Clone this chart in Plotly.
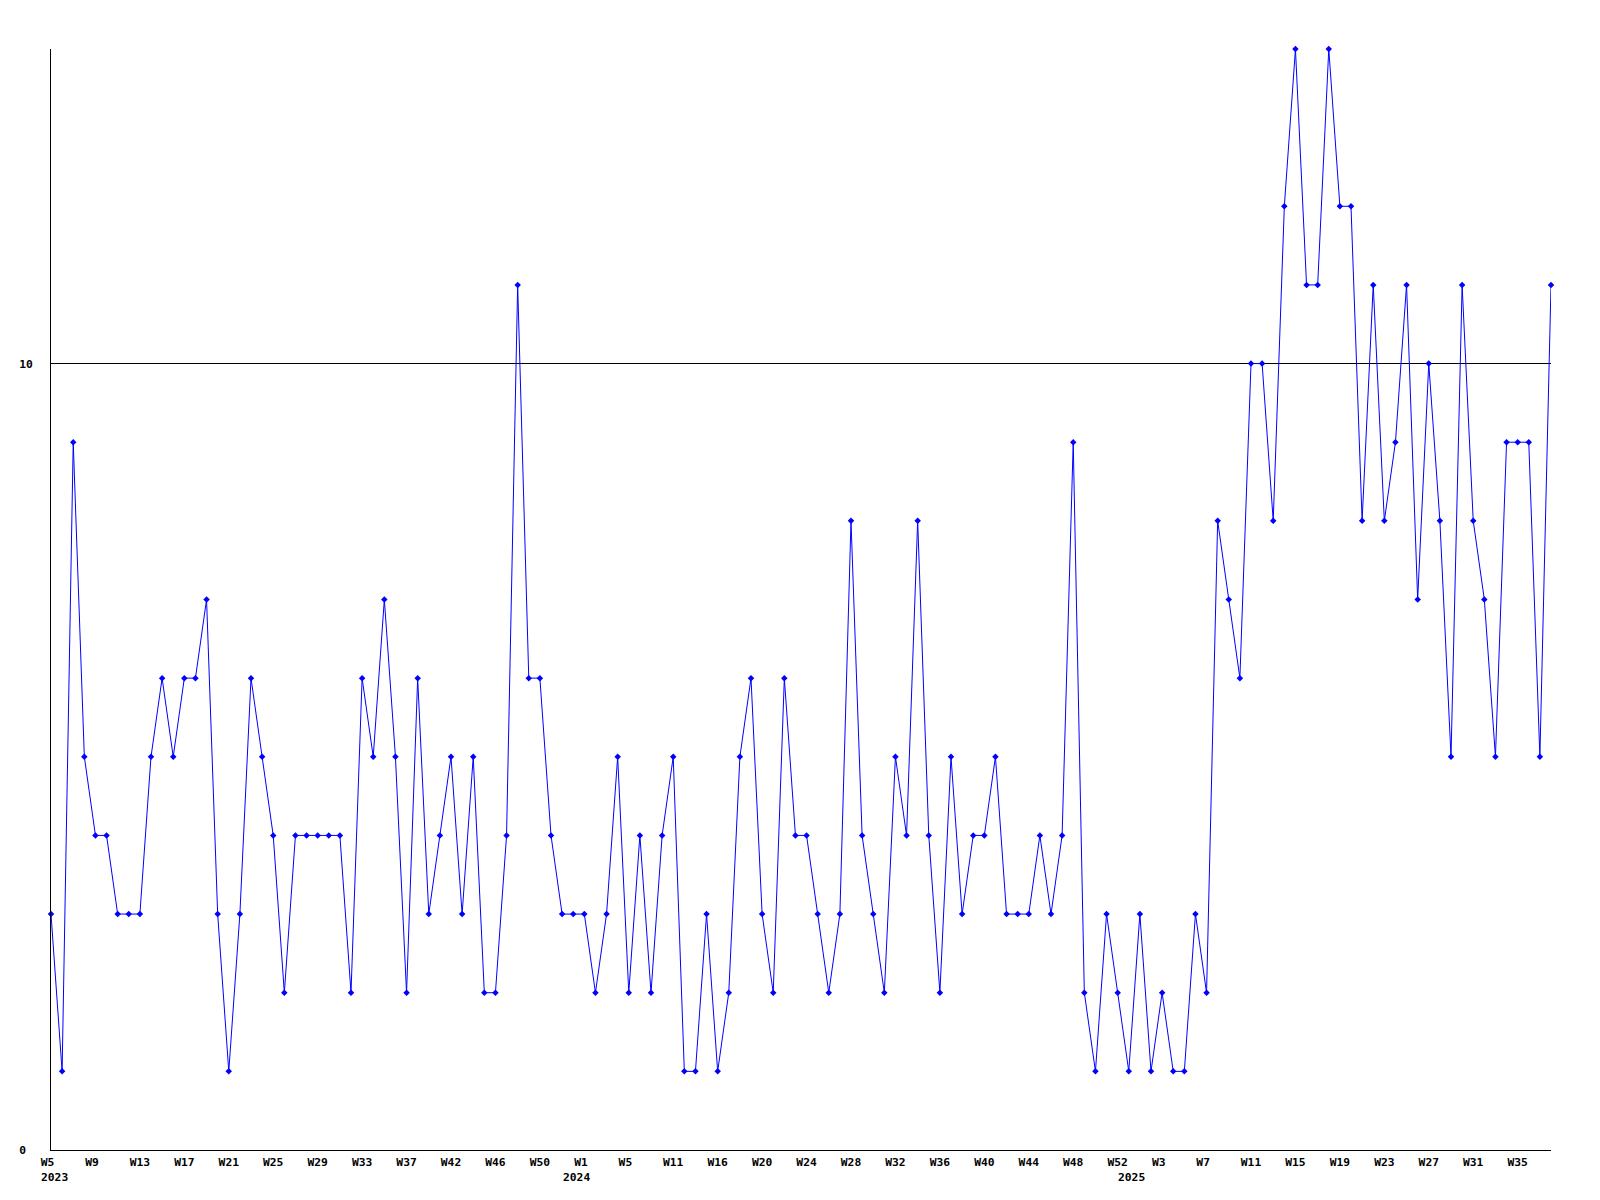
import plotly.graph_objects as go

# weekly values, W5 2023 .. ~W38 2025 (136 consecutive entries)
values = [
    3, 1, 9, 5, 4, 4, 3, 3, 3, 5,
    6, 5, 6, 6, 7, 3, 1, 3, 6, 5,
    4, 2, 4, 4, 4, 4, 4, 2, 6, 5,
    7, 5, 2, 6, 3, 4, 5, 3, 5, 2,
    2, 4, 11, 6, 6, 4, 3, 3, 3, 2,
    3, 5, 2, 4, 2, 4, 5, 1, 1, 3,
    1, 2, 5, 6, 3, 2, 6, 4, 4, 3,
    2, 3, 8, 4, 3, 2, 5, 4, 8, 4,
    2, 5, 3, 4, 4, 5, 3, 3, 3, 4,
    3, 4, 9, 2, 1, 3, 2, 1, 3, 1,
    2, 1, 1, 3, 2, 8, 7, 6, 10, 10,
    8, 12, 14, 11, 11, 14, 12, 12, 8, 11,
    8, 9, 11, 7, 10, 8, 5, 11, 8, 7,
    5, 9, 9, 9, 5, 11,
]

tick_positions = [0, 4, 8, 12, 16, 20, 24, 28, 32, 36, 40, 44, 48, 52, 56, 60, 64,
                  68, 72, 76, 80, 84, 88, 92, 96, 100, 104, 108, 112, 116, 120, 124,
                  128, 132]
tick_labels = ["W5", "W9", "W13", "W17", "W21", "W25", "W29", "W33", "W37", "W42",
               "W46", "W50", "W1", "W5", "W11", "W16", "W20", "W24", "W28", "W32",
               "W36", "W40", "W44", "W48", "W52", "W3", "W7", "W11", "W15", "W19",
               "W23", "W27", "W31", "W35"]

year_positions = [0, 47, 97]
year_labels = ["2023", "2024", "2025"]

y_ticks = [0, 10]
y_tick_labels = ["0\u00a0", "10"]

x = list(range(len(values)))

FONT = dict(family="DejaVu Sans Mono", size=11.3, color="black", weight="bold")

fig = go.Figure()
fig.add_trace(go.Scatter(
    x=x, y=values, mode="lines+markers",
    line=dict(color="#0000FF", width=1),
    marker=dict(symbol="diamond", size=5, color="#0000FF"),
    cliponaxis=False, showlegend=False, hoverinfo="x+y",
))

# pad 2-char labels so text starts left of the point like the original
padded = [t if len(t) >= 3 else t + "\u00a0" for t in tick_labels]

for pos, lab in zip(year_positions, year_labels):
    fig.add_annotation(x=pos, y=0, xref="x", yref="paper", text=lab,
                       showarrow=False, xanchor="left", yanchor="top",
                       xshift=-12.5, yshift=-19, font=FONT)

fig.update_layout(
    width=1584, height=1184,
    margin=dict(l=43, r=41, t=41, b=42, pad=0),
    paper_bgcolor="white", plot_bgcolor="white",
    font=FONT,
    xaxis=dict(range=[0, 135], tickmode="array", tickvals=tick_positions,
               ticktext=padded, showgrid=False, zeroline=False,
               showline=True, linecolor="black", linewidth=1,
               ticks="outside", ticklen=1, tickcolor="rgba(0,0,0,0)",
               tickfont=FONT, fixedrange=True),
    yaxis=dict(range=[0, 14], tickmode="array", tickvals=y_ticks,
               ticktext=y_tick_labels, showgrid=True, gridcolor="black",
               gridwidth=1, zeroline=False, showline=True, linecolor="black",
               linewidth=1, ticks="outside", ticklen=15,
               tickcolor="rgba(0,0,0,0)", tickfont=FONT, fixedrange=True),
)

fig.write_html("out.html")
